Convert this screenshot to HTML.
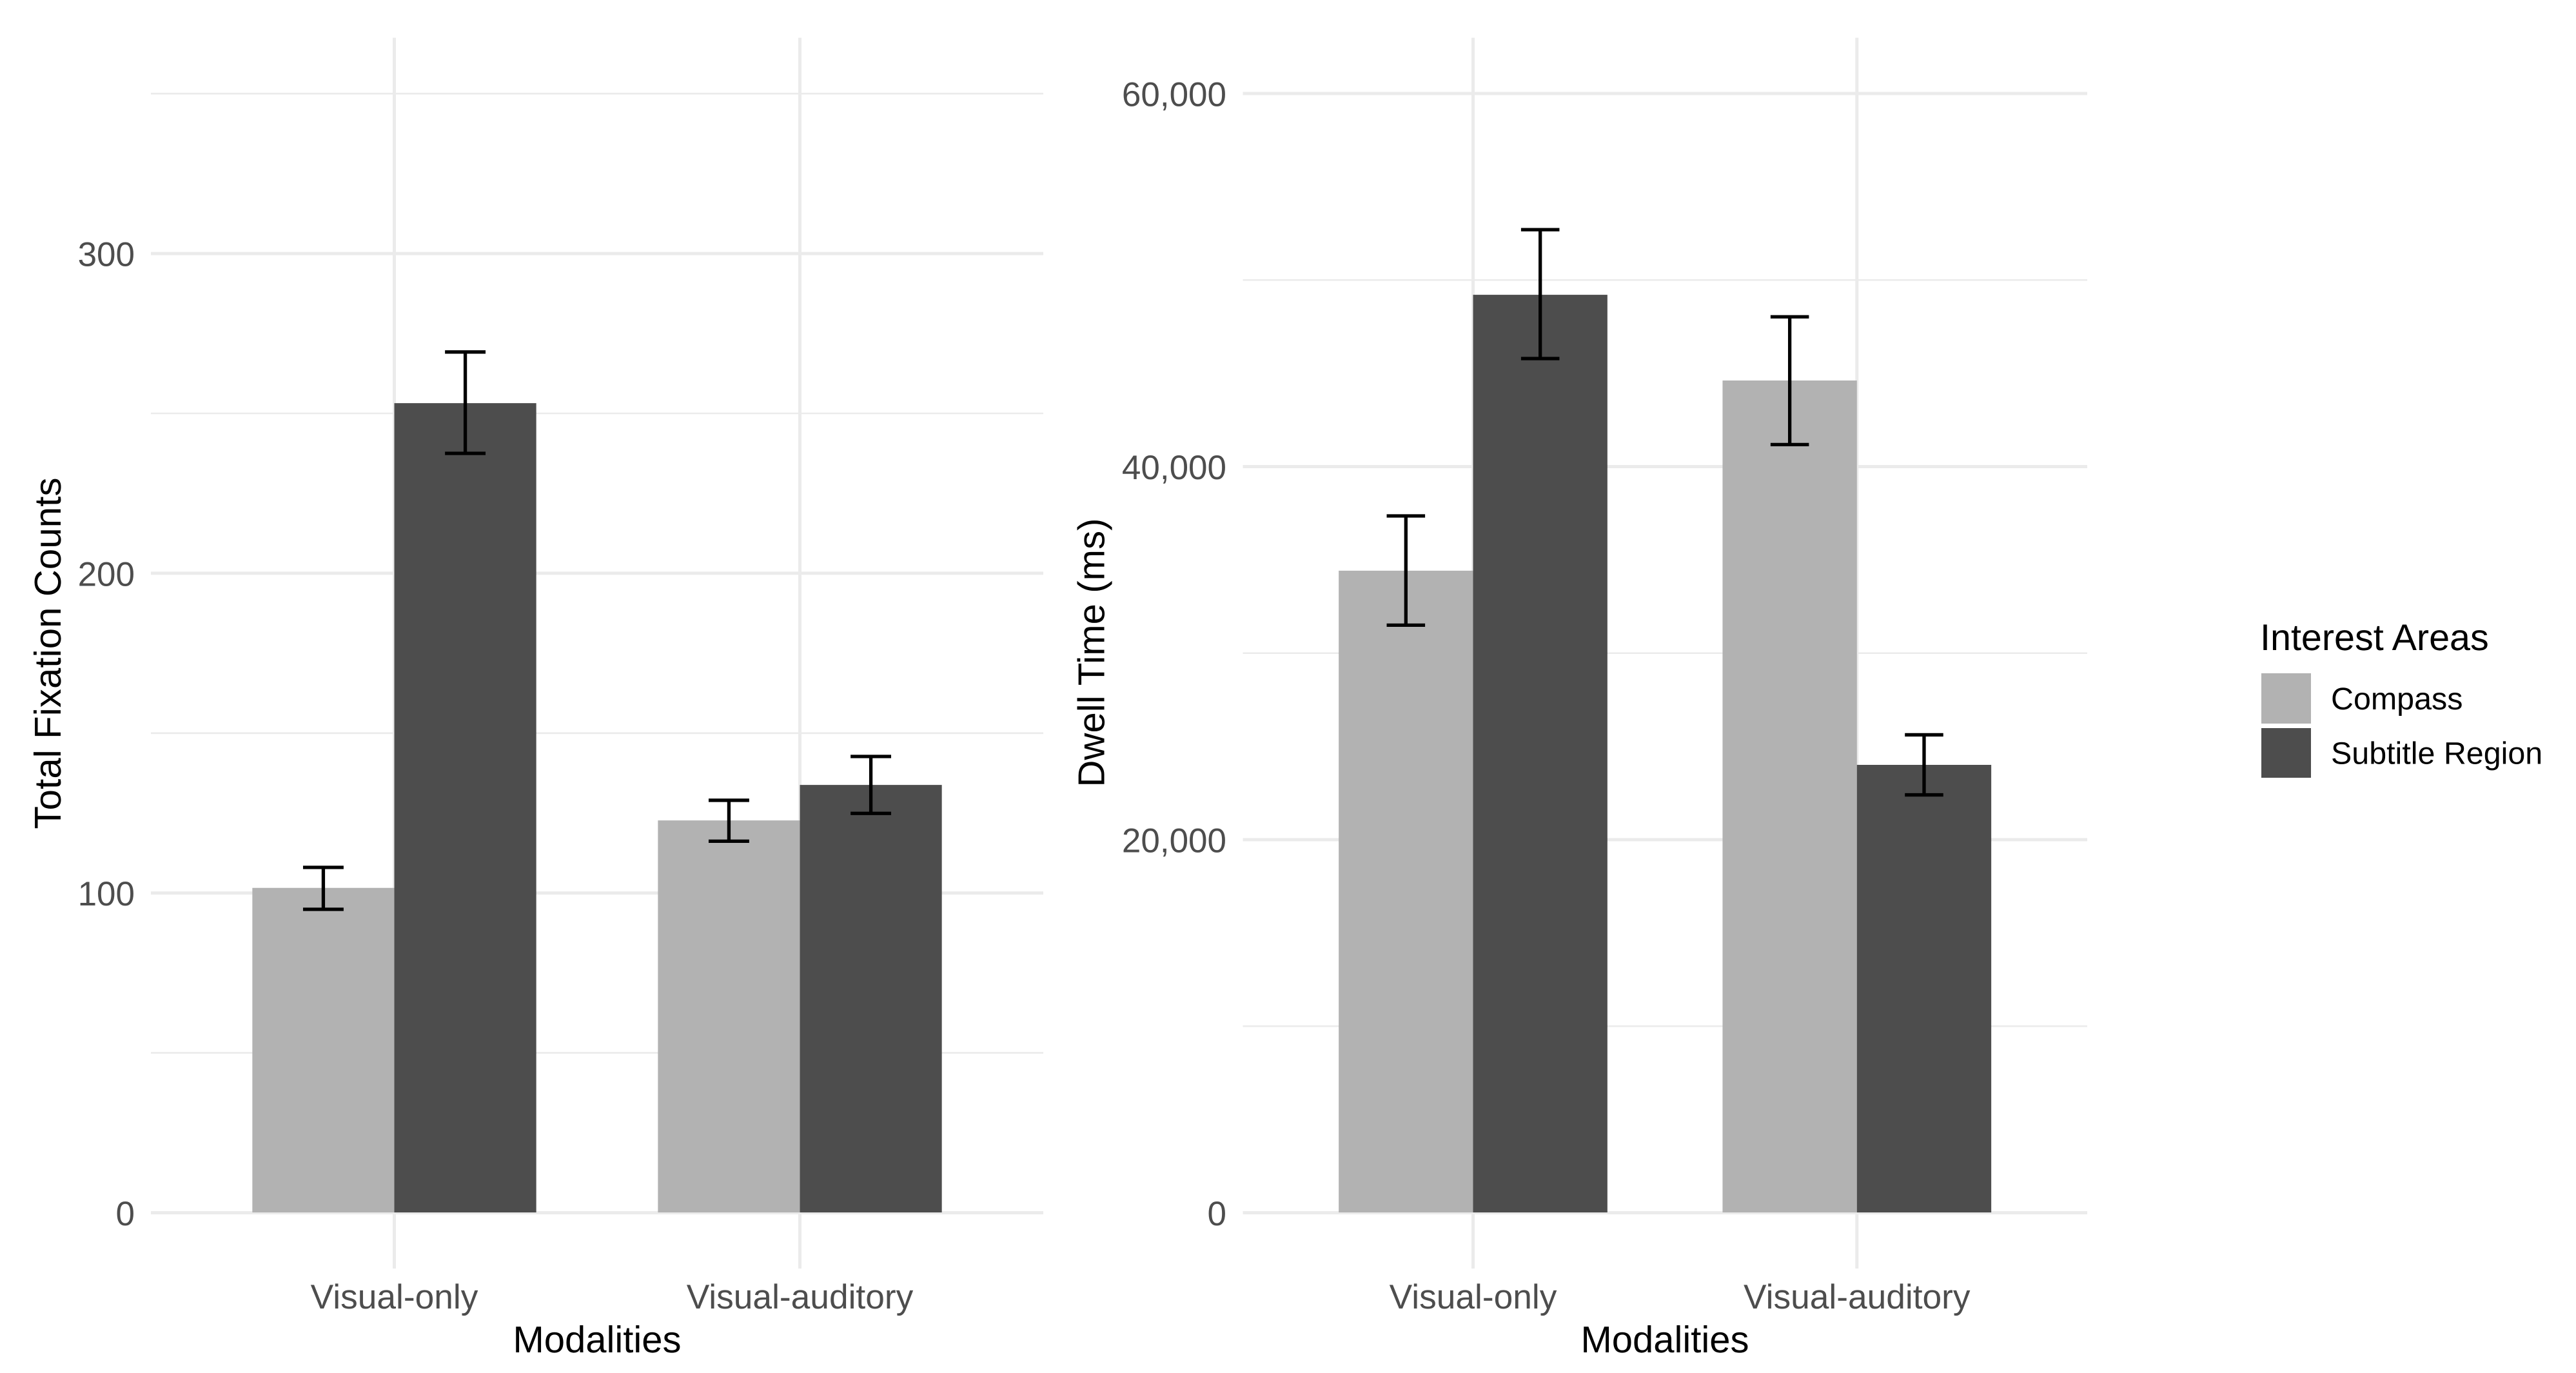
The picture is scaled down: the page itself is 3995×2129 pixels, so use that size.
<!DOCTYPE html>
<html lang="en">
<head>
<meta charset="utf-8">
<title>Fixation counts and dwell time by modality</title>
<style>
html,body{margin:0;padding:0;background:#fff;width:3995px;height:2129px;overflow:hidden}
svg{display:block;text-rendering:geometricPrecision}
text{font-family:"Liberation Sans",Arial,sans-serif}
</style>
</head>
<body>
<svg id="chart" xmlns="http://www.w3.org/2000/svg" width="3995" height="2129" viewBox="0 0 3995 2129">
  <rect x="0" y="0" width="3995" height="2129" fill="#ffffff"/>
  <g id="left-panel"></g>
  <g id="right-panel"></g>

  <text transform="translate(94 1013) rotate(-90)" text-anchor="middle" font-size="58" textLength="545" fill="#000">Total Fixation Counts</text>
  <text x="926" y="2097" text-anchor="middle" font-size="58" fill="#000">Modalities</text>
  <text transform="translate(1712.7 1012) rotate(-90)" text-anchor="middle" font-size="58" textLength="417" fill="#000">Dwell Time (ms)</text>
  <text x="2582" y="2097" text-anchor="middle" font-size="58" fill="#000">Modalities</text>

  <g>
    <text x="3505" y="1008" font-size="57.5" fill="#000">Interest Areas</text>
    <rect x="3507" y="1044" width="77" height="78" fill="#b2b2b2"/>
    <text x="3615" y="1100" font-size="48.4" fill="#000">Compass</text>
    <rect x="3507" y="1129" width="77" height="77" fill="#4d4d4d"/>
    <text x="3615" y="1184.5" font-size="48.4" fill="#000">Subtitle Region</text>
  </g>
</svg>
<script>
// Shared categories
var categories = ['Visual-only', 'Visual-auditory'];

// Left panel: Total Fixation Counts
var fixationCompassMeans = [101.6, 122.7];
var fixationCompassLower = [94.9, 116.2];
var fixationCompassUpper = [108, 129];
var fixationSubtitleMeans = [253.2, 133.8];
var fixationSubtitleLower = [237.5, 124.9];
var fixationSubtitleUpper = [269.2, 142.7];
var fixationMajorTicks = [0, 100, 200, 300];
var fixationMinorTicks = [50, 150, 250, 350];
var fixationTickLabels = ['0', '100', '200', '300'];

// Right panel: Dwell Time (ms)
var dwellCompassMeans = [34420, 44615];
var dwellCompassLower = [31500, 41180];
var dwellCompassUpper = [37355, 48030];
var dwellSubtitleMeans = [49210, 24010];
var dwellSubtitleLower = [45790, 22400];
var dwellSubtitleUpper = [52700, 25620];
var dwellMajorTicks = [0, 20000, 40000, 60000];
var dwellMinorTicks = [10000, 30000, 50000];
var dwellTickLabels = ['0', '20,000', '40,000', '60,000'];

var SVG_NS = 'http://www.w3.org/2000/svg';

function node(parent, tag, attrs) {
  var el = document.createElementNS(SVG_NS, tag);
  for (var k in attrs) { el.setAttribute(k, attrs[k]); }
  parent.appendChild(el);
  return el;
}

function drawPanel(parent, prefix, cfg) {
  // Axis functions
  function yScale(v) { return cfg.y0 - v * cfg.pxPerUnit; }
  function xScale(i) { return cfg.x0 + i * cfg.band; }

  // Minor horizontal gridlines
  cfg.minor.forEach(function (t) {
    var line = node(parent, 'line', {x1: cfg.left, x2: cfg.right, y1: yScale(t), y2: yScale(t), stroke: '#ebebeb', 'stroke-width': 2.6});
    
    
  });

  // Major horizontal gridlines and y tick labels
  cfg.major.forEach(function (t, idx) {
    var line = node(parent, 'line', {x1: cfg.left, x2: cfg.right, y1: yScale(t), y2: yScale(t), stroke: '#ebebeb', 'stroke-width': 5});
    
    
    var label = node(parent, 'text', {x: cfg.tickRight, y: yScale(t) + 19.5, 'text-anchor': 'end', 'font-size': 53, fill: '#4d4d4d'});
    label.textContent = cfg.tickLabels[idx];
    
    
  });

  // Vertical gridlines and x tick labels
  categories.forEach(function (c, idx) {
    var line = node(parent, 'line', {x1: xScale(idx), x2: xScale(idx), y1: 58.5, y2: 1967, stroke: '#ebebeb', 'stroke-width': 5});
    
    
    var label = node(parent, 'text', {x: xScale(idx), y: 2029, 'text-anchor': 'middle', 'font-size': 53.3, fill: '#4d4d4d'});
    label.textContent = c;
    
    
  });

  var barW = cfg.band * 0.35;
  var capW = cfg.band * 0.1;
  var series = [
    {name: 'compass', fill: '#b2b2b2', side: -1, m: cfg.compassMeans, lo: cfg.compassLower, hi: cfg.compassUpper},
    {name: 'subtitle', fill: '#4d4d4d', side: 0, m: cfg.subtitleMeans, lo: cfg.subtitleLower, hi: cfg.subtitleUpper}
  ];

  // Bars
  series.forEach(function (s) {
    s.m.forEach(function (v, idx) {
      var bx = xScale(idx) + s.side * barW;
      var bar = node(parent, 'rect', {x: bx, y: yScale(v), width: barW, height: cfg.y0 - 0.5 - yScale(v), fill: s.fill});
      
      
    });
  });

  // Error bars
  series.forEach(function (s) {
    s.m.forEach(function (v, idx) {
      var cx = xScale(idx) + s.side * barW + barW / 2;
      var g = node(parent, 'g', {stroke: '#000', 'stroke-width': 5.3, fill: 'none'});
      
      
      node(g, 'line', {x1: cx, x2: cx, y1: yScale(s.lo[idx]), y2: yScale(s.hi[idx])});
      node(g, 'line', {x1: cx - capW / 2, x2: cx + capW / 2, y1: yScale(s.hi[idx]), y2: yScale(s.hi[idx])});
      node(g, 'line', {x1: cx - capW / 2, x2: cx + capW / 2, y1: yScale(s.lo[idx]), y2: yScale(s.lo[idx])});
    });
  });
}

drawPanel(document.getElementById('left-panel'), 'fixation', {
  left: 234, right: 1618, x0: 611.5, band: 629, y0: 1880.5, pxPerUnit: 4.958, tickRight: 209,
  major: fixationMajorTicks, minor: fixationMinorTicks, tickLabels: fixationTickLabels,
  compassMeans: fixationCompassMeans, compassLower: fixationCompassLower, compassUpper: fixationCompassUpper,
  subtitleMeans: fixationSubtitleMeans, subtitleLower: fixationSubtitleLower, subtitleUpper: fixationSubtitleUpper
});

drawPanel(document.getElementById('right-panel'), 'dwell', {
  left: 1927.5, right: 3237, x0: 2284.5, band: 595.3, y0: 1880.5, pxPerUnit: 0.028925, tickRight: 1902,
  major: dwellMajorTicks, minor: dwellMinorTicks, tickLabels: dwellTickLabels,
  compassMeans: dwellCompassMeans, compassLower: dwellCompassLower, compassUpper: dwellCompassUpper,
  subtitleMeans: dwellSubtitleMeans, subtitleLower: dwellSubtitleLower, subtitleUpper: dwellSubtitleUpper
});
</script>
</body>
</html>
